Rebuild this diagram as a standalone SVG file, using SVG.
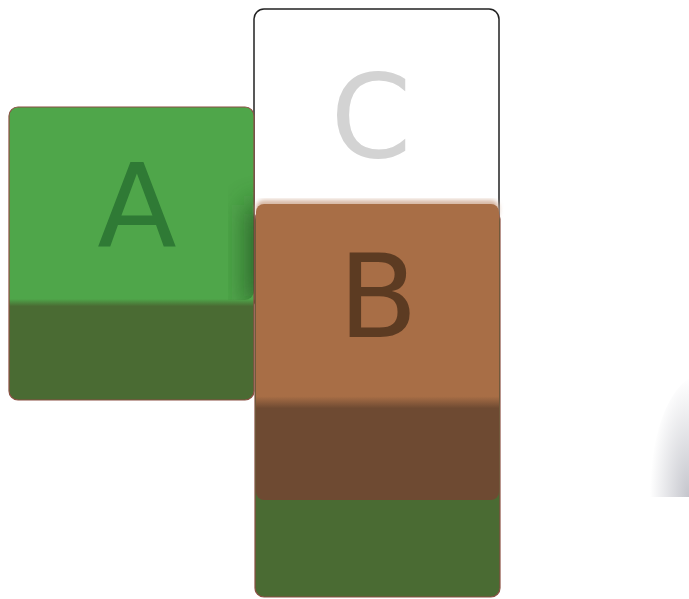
<svg xmlns="http://www.w3.org/2000/svg" width="689" height="599" viewBox="0 0 689 599">
<style>
.lbl{font-family:"DejaVu Sans","Liberation Sans",sans-serif;font-size:116px;text-anchor:middle}
.edge{stroke:#8a4f42;stroke-width:1.2}
</style>
<defs>
<linearGradient id="gA" x1="0" y1="0" x2="0" y2="1">
<stop offset="0" stop-color="#4fa64a"/><stop offset="0.655" stop-color="#4fa64a"/>
<stop offset="0.68" stop-color="#4a6b33"/><stop offset="1" stop-color="#4a6b33"/>
</linearGradient>
<linearGradient id="gB" x1="0" y1="0" x2="0" y2="1">
<stop offset="0" stop-color="#a86e46"/><stop offset="0.65" stop-color="#a86e46"/>
<stop offset="0.69" stop-color="#6e4a32"/><stop offset="1" stop-color="#6e4a32"/>
</linearGradient>
<radialGradient id="gG" cx="1" cy="1" r="1">
<stop offset="0" stop-color="#c4c5cc"/><stop offset="1" stop-color="#ffffff"/>
</radialGradient>
<filter id="blur" x="-50%" y="-50%" width="200%" height="200%"><feGaussianBlur stdDeviation="14"/></filter>
<filter id="blur2" x="-10%" y="-10%" width="120%" height="120%"><feGaussianBlur stdDeviation="2"/></filter>
<clipPath id="clipA"><rect x="9" y="107" width="245" height="193" rx="9"/></clipPath>
</defs>
<g id="node-C">
<rect x="254" y="9" width="245" height="300" rx="10" fill="#ffffff" stroke="#222222" stroke-width="1.5"/>
<text class="lbl" x="371" y="157" fill="#d3d3d3">C</text>
</g>
<g id="node-A">
<rect x="9" y="107" width="245" height="293" rx="9" fill="url(#gA)" class="edge"/>
<g clip-path="url(#clipA)">
<rect x="248" y="205" width="40" height="100" fill="#245224" opacity="0.85" filter="url(#blur)"/>
</g>
<text class="lbl" x="137" y="247" fill="#2f7a35">A</text>
</g>
<g id="node-ground">
<rect x="255" y="210" width="245" height="387" rx="9" fill="#4a6b33" class="edge"/>
</g>
<g id="node-B">
<rect x="256" y="200" width="243" height="20" rx="8" fill="#d7b8a4" filter="url(#blur2)"/>
<rect x="256" y="204" width="243" height="296" rx="8" fill="url(#gB)"/>
<text class="lbl" x="378" y="337" fill="#5c3b22">B</text>
</g>
<g id="decor">
<path d="M650,497 C650,440 665,395 689,378 L689,497 Z" fill="url(#gG)"/>
</g>
<g id="connectors"/>
</svg>
